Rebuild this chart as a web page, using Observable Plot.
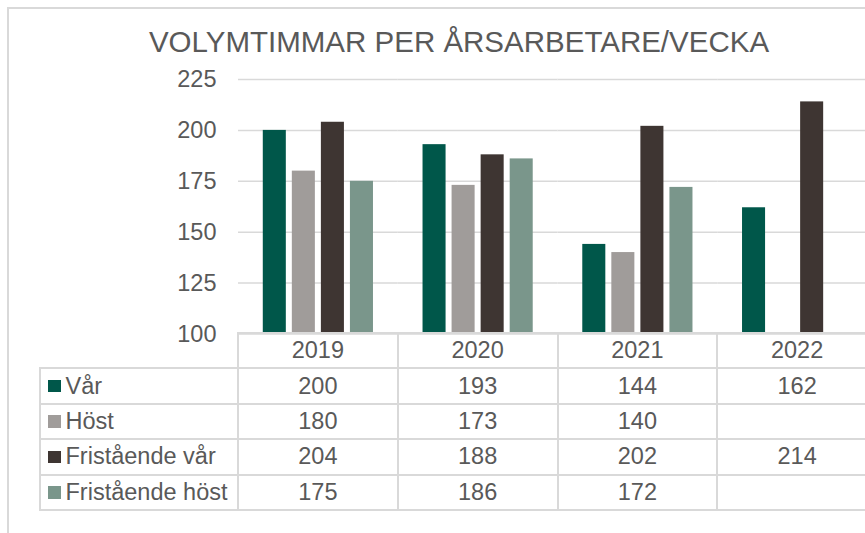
<!DOCTYPE html>
<html>
<head>
<meta charset="utf-8">
<script src="https://cdn.jsdelivr.net/npm/d3@7"></script>
<script src="https://cdn.jsdelivr.net/npm/@observablehq/plot@0.6"></script>
<style>
  html, body { margin: 0; padding: 0; background: #fff; overflow: hidden; }
  #chart { position: relative; width: 865px; height: 533px; overflow: hidden; background: #fff;
           font-family: "Liberation Sans", Arial, sans-serif; color: #595959; }
  #frame { position: absolute; left: 7px; top: 7px; width: 940px; height: 600px; border: 2px solid #d9d9d9; box-sizing: border-box; }
  #title { position: absolute; left: 8px; width: 902px; top: 27px; text-align: center; font-size: 29.5px; line-height: 1; white-space: nowrap; }
  #plot { position: absolute; left: 0; top: 0; width: 877px; }
  #plot svg { max-width: none !important; }
  .hl, .vl { position: absolute; background: #d9d9d9; }
  .cell { position: absolute; display: flex; align-items: center; justify-content: center; font-size: 23.5px; white-space: nowrap; }
  .lcell { position: absolute; display: flex; align-items: center; font-size: 23.5px; white-space: nowrap; }
  .sw { display: inline-block; width: 12.5px; height: 12.5px; margin-left: 8px; margin-right: 5px; }
</style>
</head>
<body>
<div id="chart">
  <div id="frame"></div>
  <div id="title">VOLYMTIMMAR PER ÅRSARBETARE/VECKA</div>
  <div id="plot"></div>
</div>
<script>
const years = ["2019", "2020", "2021", "2022"];
const series = ["Vår", "Höst", "Fristående vår", "Fristående höst"];
const colors = ["#00574a", "#a09c9a", "#3e3532", "#7a968b"];
const varValues = [200, 193, 144, 162];
const hostValues = [180, 173, 140, null];
const fristVarValues = [204, 188, 202, 214];
const fristHostValues = [175, 186, 172, null];
const yTicks = [100, 125, 150, 175, 200, 225];

const seriesValues = [varValues, hostValues, fristVarValues, fristHostValues];
const rows = [];
series.forEach((s, si) => {
  years.forEach((y, yi) => {
    const v = seriesValues[si][yi];
    if (v != null) rows.push({year: y, series: s, value: v});
  });
});

const plot = Plot.plot({
  width: 877,
  height: 340,
  marginLeft: 238,
  marginRight: 0,
  marginTop: 79,
  marginBottom: 6.5,
  style: {fontFamily: "'Liberation Sans', Arial, sans-serif", fontSize: "23.5px", color: "#595959", background: "transparent", overflow: "visible", maxWidth: "none"},
  fx: {domain: years, padding: 0, round: false, axis: null, label: null},
  x: {domain: series, paddingInner: 0.207, paddingOuter: 0.853, round: false, axis: null, label: null},
  y: {domain: [yTicks[0], yTicks[yTicks.length - 1]], label: null, axis: null},
  color: {domain: series, range: colors},
  marks: [
    Plot.gridY(yTicks, {stroke: "#d9d9d9", strokeOpacity: 1, strokeWidth: 1.5}),
    Plot.axisY(yTicks, {tickSize: 0, tickPadding: 22, fill: "#595959", fontSize: 23.5, label: null}),
    Plot.barY(rows, {fx: "year", x: "series", y1: yTicks[0], y2: "value", fill: "series"})
  ]
});
plot.style.maxWidth = "none";
document.getElementById("plot").appendChild(plot);

// Data table aligned to the fx scale
const chart = document.getElementById("chart");
const fxInfo = plot.scale("fx");
let fxPos;
if (fxInfo && typeof fxInfo.apply === "function") {
  fxPos = (y) => fxInfo.apply(y);
} else {
  const b = d3.scaleBand(fxInfo.domain, fxInfo.range).paddingInner(fxInfo.paddingInner || 0).paddingOuter(fxInfo.paddingOuter || 0);
  fxPos = (y) => b(y);
}
const bw = fxInfo.bandwidth;
const tableLeft = 40;
const tableTop = 333;
const rowH = 35.4;
const colLeft = fxPos(years[0]);
const tableRight = fxPos(years[years.length - 1]) + bw;
const nRows = series.length + 1;

function el(cls, css, html) {
  const d = document.createElement("div");
  d.className = cls;
  Object.assign(d.style, css);
  if (html != null) d.innerHTML = html;
  chart.appendChild(d);
  return d;
}
const lw = 2;
// horizontal lines
for (let k = 0; k <= nRows; k++) {
  const y = tableTop + k * rowH;
  const x0 = k === 0 ? colLeft : tableLeft;
  el("hl", {left: (x0 - lw / 2) + "px", top: (y - lw / 2) + "px", width: (tableRight - x0 + lw) + "px", height: lw + "px"});
}
// vertical lines
el("vl", {left: (tableLeft - lw / 2) + "px", top: (tableTop + rowH - lw / 2) + "px", width: lw + "px", height: (series.length * rowH + lw) + "px"});
years.forEach((y) => {
  const x = fxPos(y);
  el("vl", {left: (x - lw / 2) + "px", top: (tableTop - lw / 2) + "px", width: lw + "px", height: (nRows * rowH + lw) + "px"});
});
el("vl", {left: (tableRight - lw / 2) + "px", top: (tableTop - lw / 2) + "px", width: lw + "px", height: (nRows * rowH + lw) + "px"});

// header
years.forEach((y) => {
  el("cell", {left: fxPos(y) + "px", top: tableTop + "px", width: bw + "px", height: rowH + "px"}, y);
});
// rows
series.forEach((s, si) => {
  const top = tableTop + (si + 1) * rowH;
  el("lcell", {left: tableLeft + "px", top: top + "px", width: (colLeft - tableLeft) + "px", height: rowH + "px"},
     `<span class="sw" style="background:${colors[si]}"></span><span>${s}</span>`);
  years.forEach((y, yi) => {
    const v = seriesValues[si][yi];
    el("cell", {left: fxPos(y) + "px", top: top + "px", width: bw + "px", height: rowH + "px"}, v == null ? "" : String(v));
  });
});
</script>
</body>
</html>
